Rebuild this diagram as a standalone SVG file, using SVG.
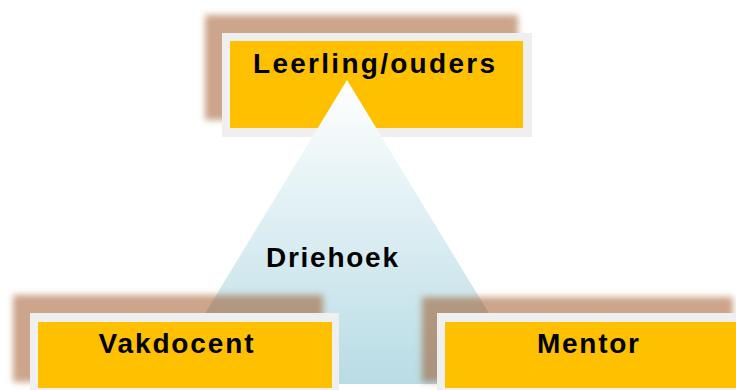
<svg xmlns="http://www.w3.org/2000/svg" width="736" height="390" viewBox="0 0 736 390">
<defs>
<filter id="blur" x="-10%" y="-20%" width="120%" height="140%"><feGaussianBlur stdDeviation="3"/></filter>
<linearGradient id="tri" x1="0" y1="80" x2="0" y2="384" gradientUnits="userSpaceOnUse">
<stop offset="0" stop-color="#ffffff"/>
<stop offset="1" stop-color="#b8dce5"/>
</linearGradient>
<style>
.shadow{fill:#9a4a10;fill-opacity:0.5;filter:url(#blur)}
.frame{fill:#efefef}
.box{fill:#ffc000}
.lbl{font-family:"Liberation Sans",Arial,sans-serif;font-weight:bold;font-size:28px;fill:#000;text-anchor:middle}
</style>
</defs>
<rect width="736" height="390" fill="#ffffff"/>
<g id="node-leerling">
<rect class="shadow" x="205" y="15" width="313" height="105"/>
<rect class="frame" x="222" y="33" width="310" height="104"/>
<rect class="box" x="230" y="41" width="293" height="87"/>
<text class="lbl" x="374" y="73" textLength="242" lengthAdjust="spacing">Leerling/ouders</text>
</g>
<g id="connectors">
<polygon id="triangle" points="347,80 162,384 532,384" fill="url(#tri)"/>
<text class="lbl" x="332" y="267" font-size="26" textLength="132" lengthAdjust="spacing">Driehoek</text>
</g>
<g id="node-vakdocent">
<rect class="shadow" x="13" y="295" width="310" height="87"/>
<rect class="frame" x="30" y="313" width="309" height="84"/>
<rect class="box" x="38" y="322" width="294" height="66"/>
<text class="lbl" x="176" y="353" font-size="26" textLength="155" lengthAdjust="spacing">Vakdocent</text>
</g>
<g id="node-mentor">
<rect class="shadow" x="422" y="297" width="311" height="85"/>
<rect class="frame" x="437" y="313" width="310" height="84"/>
<rect class="box" x="445" y="322" width="300" height="66"/>
<text class="lbl" x="588" y="353" font-size="26" textLength="102" lengthAdjust="spacing">Mentor</text>
</g>
</svg>
